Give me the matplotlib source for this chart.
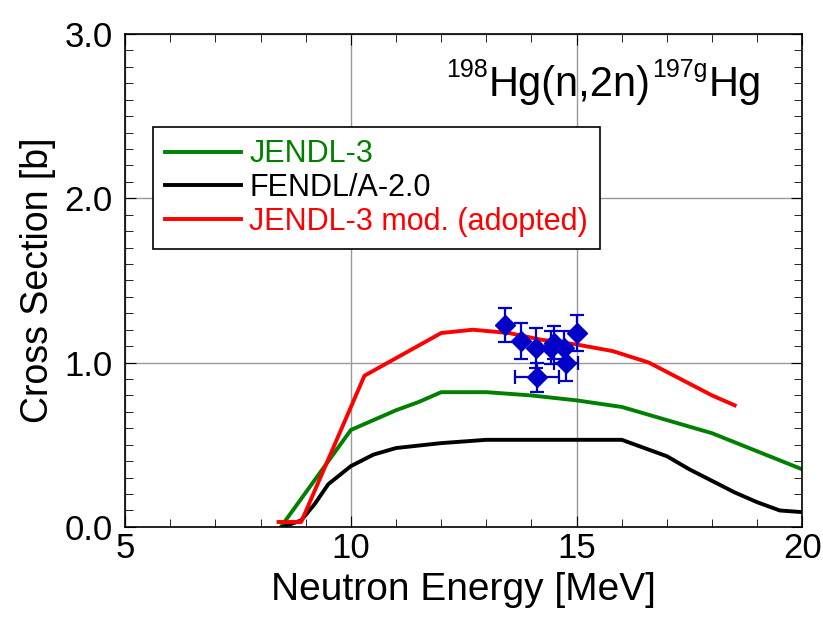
import numpy as np
import matplotlib
matplotlib.use("Agg")
import matplotlib.pyplot as plt
from matplotlib.ticker import MultipleLocator

plt.rcParams['font.family'] = ['Liberation Sans', 'DejaVu Sans']

# evaluated data
jendl_x = [8.45, 10.0, 10.5, 11.0, 11.5, 12.0, 13.0, 14.0, 15.0, 16.0, 17.0, 18.0, 19.0, 20.0]
jendl_y = [0.0, 0.59, 0.65, 0.71, 0.76, 0.82, 0.82, 0.80, 0.77, 0.73, 0.65, 0.57, 0.46, 0.35]

fendl_x = [8.5, 8.9, 9.2, 9.5, 10.0, 10.5, 11.0, 12.0, 13.0, 14.0, 15.0, 16.0,
           16.5, 17.0, 17.5, 18.0, 18.5, 19.0, 19.5, 20.0]
fendl_y = [0.0, 0.04, 0.14, 0.26, 0.37, 0.44, 0.48, 0.51, 0.53, 0.53, 0.53, 0.53,
           0.48, 0.43, 0.35, 0.28, 0.21, 0.15, 0.10, 0.09]

mod_x = [8.4, 8.9, 10.3, 12.0, 12.7, 13.5, 14.2, 15.0, 15.8, 16.6, 17.3, 18.0, 18.5]
mod_y = [0.03, 0.03, 0.92, 1.18, 1.20, 1.18, 1.14, 1.11, 1.07, 1.00, 0.90, 0.80, 0.74]

# measurements
exp_x = [13.42, 13.76, 14.09, 14.13, 14.44, 14.49, 14.73, 14.76, 15.0]
exp_y = [1.23, 1.13, 1.09, 0.91, 1.09, 1.12, 1.09, 1.00, 1.18]
exp_dy = [0.105, 0.11, 0.12, 0.09, 0.10, 0.10, 0.10, 0.11, 0.11]
exp_dx = [0.0, 0.0, 0.0, 0.49, 0.0, 0.0, 0.0, 0.27, 0.0]

fig = plt.figure(figsize=(8.23, 6.17), dpi=100)
ax = fig.add_axes([0.152, 0.146, 0.823, 0.799])

ax.plot(jendl_x, jendl_y, color='#008000', lw=2.8, label='JENDL-3')
ax.plot(fendl_x, fendl_y, color='black', lw=2.8, label='FENDL/A-2.0')
ax.plot(mod_x, mod_y, color='#ff0000', lw=2.8, label='JENDL-3 mod. (adopted)')
ax.errorbar(exp_x, exp_y, yerr=exp_dy, xerr=exp_dx, fmt='D', color='#0000c8',
            ms=10, lw=1.6, capsize=5, capthick=1.6, zorder=5)

ax.set_xlim(5, 20)
ax.set_ylim(0, 3)
ax.xaxis.set_major_locator(MultipleLocator(5))
ax.xaxis.set_minor_locator(MultipleLocator(1))
ax.yaxis.set_major_locator(MultipleLocator(1))
ax.yaxis.set_minor_locator(MultipleLocator(0.1))
ax.set_yticks([0, 1, 2, 3], ['0.0', '1.0', '2.0', '3.0'])
ax.tick_params(which='both', direction='in', top=True, right=True, labelsize=25)
ax.tick_params(axis='x', pad=4)
ax.tick_params(axis='y', pad=9)
ax.tick_params(which='major', length=8)
ax.tick_params(which='minor', length=6)
ax.grid(True, which='major', color='#999999', lw=1)
for s in ax.spines.values():
    s.set_linewidth(1.2)

ax.set_xlabel('Neutron Energy [MeV]', fontsize=28, labelpad=5)
ax.set_ylabel('Cross Section [b]', fontsize=27, labelpad=6)

# reaction label: 198Hg(n,2n)197gHg with small superscripts
t1 = ax.text(12.1, 2.71, '198', fontsize=18, va='bottom')
t2 = ax.annotate('Hg(n,2n)', xy=(1, 0), xycoords=t1, xytext=(1, -17),
                 textcoords='offset points', fontsize=30, va='bottom')
t3 = ax.annotate('197g', xy=(1, 0), xycoords=t2, xytext=(1, 17),
                 textcoords='offset points', fontsize=18, va='bottom')
ax.annotate('Hg', xy=(1, 0), xycoords=t3, xytext=(1, -17),
            textcoords='offset points', fontsize=30, va='bottom')

leg = ax.legend(loc='upper left', bbox_to_anchor=(0.041, 0.811), fontsize=22,
                labelcolor='linecolor', fancybox=False, edgecolor='black',
                framealpha=1, handlelength=2.5, handletextpad=0.25,
                borderpad=0.4, labelspacing=0.12, borderaxespad=0)
leg.get_frame().set_linewidth(1.2)

plt.savefig('out.png', dpi=100)
